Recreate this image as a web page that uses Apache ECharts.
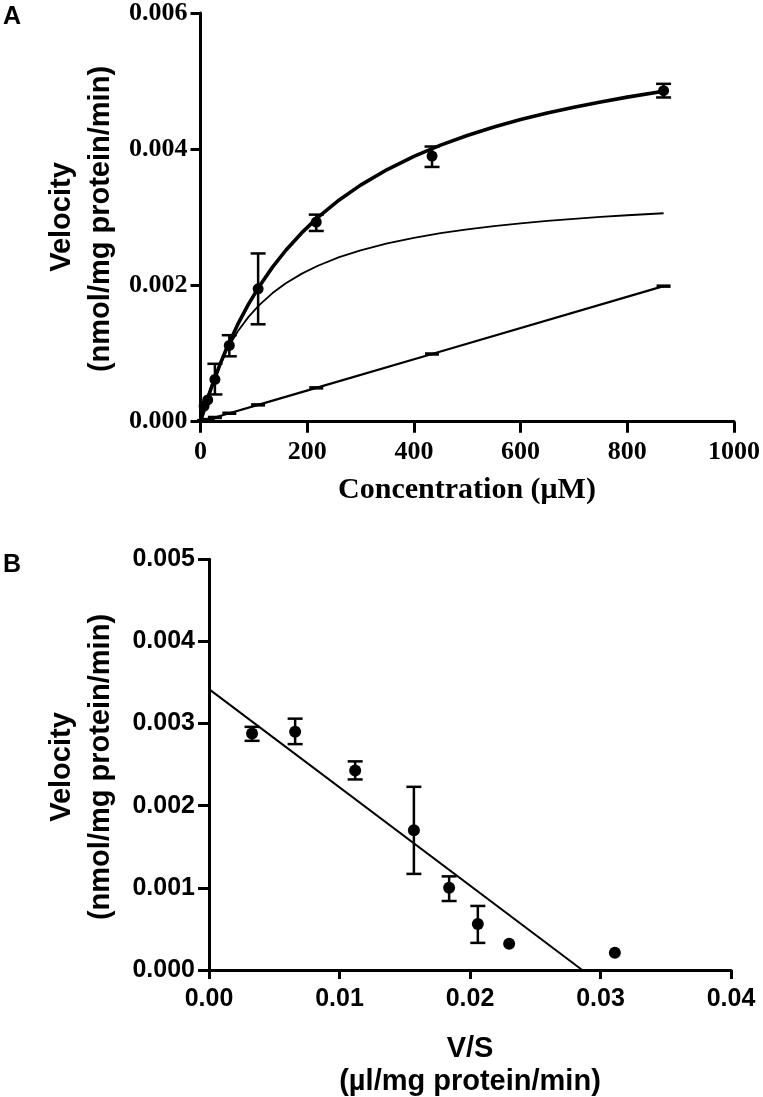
<!DOCTYPE html>
<html><head><meta charset="utf-8">
<script src="https://cdn.jsdelivr.net/npm/echarts@6/dist/echarts.min.js"></script>
<style>html,body{margin:0;padding:0;background:#fff}#c{width:763px;height:1097px}</style>
</head><body><div id="c"></div>
<script>
// ---------- Panel A data ----------
const concA = [6.75, 13.5, 27, 54, 108, 217, 434, 868];
const velA = [0.00023, 0.00032, 0.00062, 0.00112, 0.00195, 0.00293, 0.00390, 0.00486];
const errLowA = [0.00023, 0.00032, 0.00040, 0.00096, 0.00143, 0.00280, 0.00374, 0.00476];
const errHighA = [0.00023, 0.00032, 0.00085, 0.00127, 0.00247, 0.00304, 0.00404, 0.00496];
const linearConcA = [0, 6.75, 13.5, 27, 54, 108, 217, 434, 868];
const linearVelA = [0, 0.0000155, 0.000031, 0.000062, 0.000124, 0.000247, 0.000497, 0.000994, 0.00199];
const curveConcA = [0, 10, 20, 35, 50, 70, 90, 110, 135, 160, 190, 220, 260, 300, 350, 400, 450, 500, 550, 600, 650, 700, 750, 800, 868];
const totalFitA = [0, 0.000256, 0.000491, 0.000810, 0.001096, 0.001432, 0.001726, 0.001985, 0.002269, 0.002517, 0.002775, 0.002999, 0.003255, 0.003473, 0.003702, 0.003895, 0.004060, 0.004202, 0.004326, 0.004435, 0.004532, 0.004618, 0.004695, 0.004765, 0.004850];
const satFitA = [0, 0.000283, 0.000524, 0.000823, 0.001066, 0.001329, 0.001539, 0.001712, 0.001888, 0.002032, 0.002174, 0.002290, 0.002415, 0.002516, 0.002617, 0.002699, 0.002767, 0.002823, 0.002871, 0.002912, 0.002947, 0.002978, 0.003006, 0.003031, 0.003060];
const xTicksA = [0, 200, 400, 600, 800, 1000];
const yTicksA = [0, 0.002, 0.004, 0.006];

// ---------- Panel B data ----------
const vsB = [0.0033, 0.0066, 0.0112, 0.0157, 0.0184, 0.0206, 0.0230, 0.0311];
const velB = [0.00288, 0.00290, 0.00243, 0.00170, 0.00100, 0.00056, 0.00032, 0.00021];
const errLowB = [0.00279, 0.00275, 0.00232, 0.00117, 0.00084, 0.00033, 0.00032, 0.00021];
const errHighB = [0.00296, 0.00306, 0.00254, 0.00223, 0.00114, 0.00078, 0.00032, 0.00021];
const fitXB = [0, 0.0286];
const fitYB = [0.00342, 0];
const xTicksB = [0, 0.01, 0.02, 0.03, 0.04];
const yTicksB = [0, 0.001, 0.002, 0.003, 0.004, 0.005];

const chart = echarts.init(document.getElementById('c'), null, {renderer: 'canvas'});

const serif = '"Liberation Serif", "Times New Roman", serif';
const sans = '"Liberation Sans", Arial, sans-serif';

function axisCommon(fontFamily, fontSize, decimals, margin, tickLen) {
  return {
    axisLine: {show: true, onZero: false, lineStyle: {color: '#000', width: 3}},
    axisTick: {show: true, inside: false, length: tickLen, lineStyle: {color: '#000', width: 3}},
    splitLine: {show: false},
    axisLabel: {
      color: '#000', fontFamily: fontFamily, fontWeight: 'bold', fontSize: fontSize, margin: margin,
      formatter: v => decimals === 0 ? String(Math.round(v)) : Number(v).toFixed(decimals)
    }
  };
}

function errRender(params, api) {
  const x = api.value(0), lo = api.value(1), hi = api.value(2);
  if (hi - lo <= 0) return null;
  const a = api.coord([x, lo]), b = api.coord([x, hi]);
  const w = 7.5;
  const st = {stroke: '#000', lineWidth: 2.5};
  return {type: 'group', children: [
    {type: 'line', shape: {x1: a[0], y1: a[1], x2: b[0], y2: b[1]}, style: st},
    {type: 'line', shape: {x1: a[0] - w, y1: a[1], x2: a[0] + w, y2: a[1]}, style: st},
    {type: 'line', shape: {x1: b[0] - w, y1: b[1], x2: b[0] + w, y2: b[1]}, style: st}
  ]};
}

const zip2 = (xs, ys) => xs.map((x, i) => [x, ys[i]]);
const zip3 = (xs, a, b) => xs.map((x, i) => [x, a[i], b[i]]);

const option = {
  animation: false,
  backgroundColor: '#fff',
  grid: [
    {left: 200.5, top: 10, width: 534, height: 411.7},
    {left: 209, top: 559.3, width: 522, height: 410.7}
  ],
  xAxis: [
    Object.assign({type: 'value', gridIndex: 0, min: xTicksA[0], max: xTicksA[xTicksA.length - 1], interval: xTicksA[1] - xTicksA[0]}, axisCommon(serif, 26, 0, 18, 11)),
    Object.assign({type: 'value', gridIndex: 1, min: xTicksB[0], max: xTicksB[xTicksB.length - 1], interval: xTicksB[1] - xTicksB[0]}, axisCommon(sans, 25, 2, 17, 9))
  ],
  yAxis: [
    Object.assign({type: 'value', gridIndex: 0, min: yTicksA[0], max: yTicksA[yTicksA.length - 1], interval: yTicksA[1] - yTicksA[0]}, axisCommon(serif, 26, 3, 13, 10)),
    Object.assign({type: 'value', gridIndex: 1, min: yTicksB[0], max: yTicksB[yTicksB.length - 1], interval: yTicksB[1] - yTicksB[0]}, axisCommon(sans, 25, 3, 14, 11))
  ],
  series: [
    {type: 'line', xAxisIndex: 0, yAxisIndex: 0, data: zip2(curveConcA, satFitA), smooth: false, showSymbol: false, lineStyle: {color: '#000', width: 1.8}, z: 2},
    {type: 'line', xAxisIndex: 0, yAxisIndex: 0, data: zip2(linearConcA, linearVelA).map((p, i) => i === 0 ? {value: p, symbol: 'none'} : p), symbol: 'rect', symbolSize: [14, 3.5], itemStyle: {color: '#000', opacity: 1}, lineStyle: {color: '#000', width: 2.2}, z: 2},
    {type: 'line', xAxisIndex: 0, yAxisIndex: 0, data: zip2(curveConcA, totalFitA), smooth: false, showSymbol: false, lineStyle: {color: '#000', width: 3.6, join: 'round'}, z: 3},
    {type: 'custom', xAxisIndex: 0, yAxisIndex: 0, data: zip3(concA, errLowA, errHighA), renderItem: errRender, z: 4},
    {type: 'scatter', xAxisIndex: 0, yAxisIndex: 0, data: zip2(concA, velA), symbol: 'circle', symbolSize: 11, itemStyle: {color: '#000', opacity: 1}, z: 5},

    {type: 'line', xAxisIndex: 1, yAxisIndex: 1, data: zip2(fitXB, fitYB), showSymbol: false, lineStyle: {color: '#000', width: 2}, z: 2},
    {type: 'custom', xAxisIndex: 1, yAxisIndex: 1, data: zip3(vsB, errLowB, errHighB), renderItem: errRender, z: 4},
    {type: 'scatter', xAxisIndex: 1, yAxisIndex: 1, data: zip2(vsB, velB), symbol: 'circle', symbolSize: 12, itemStyle: {color: '#000', opacity: 1}, z: 5}
  ],
  graphic: [
    {type: 'text', x: 3, y: 5, style: {text: 'A', font: 'bold 25px ' + sans, fill: '#000', align: 'left', verticalAlign: 'top'}},
    {type: 'text', x: 62, y: 217, rotation: Math.PI / 2, style: {text: 'Velocity', font: 'bold 29px ' + sans, fill: '#000', align: 'center', verticalAlign: 'middle'}},
    {type: 'text', x: 101, y: 219, rotation: Math.PI / 2, style: {text: '(nmol/mg protein/min)', font: 'bold 29px ' + sans, fill: '#000', align: 'center', verticalAlign: 'middle'}},
    {type: 'text', x: 467, y: 490, style: {text: 'Concentration (μM)', font: 'bold 30px ' + serif, fill: '#000', align: 'center', verticalAlign: 'middle'}},

    {type: 'text', x: 3, y: 553, style: {text: 'B', font: 'bold 25px ' + sans, fill: '#000', align: 'left', verticalAlign: 'top'}},
    {type: 'text', x: 62, y: 767, rotation: Math.PI / 2, style: {text: 'Velocity', font: 'bold 29px ' + sans, fill: '#000', align: 'center', verticalAlign: 'middle'}},
    {type: 'text', x: 101, y: 767, rotation: Math.PI / 2, style: {text: '(nmol/mg protein/min)', font: 'bold 29px ' + sans, fill: '#000', align: 'center', verticalAlign: 'middle'}},
    {type: 'text', x: 470, y: 1049, style: {text: 'V/S', font: 'bold 29px ' + sans, fill: '#000', align: 'center', verticalAlign: 'middle'}},
    {type: 'text', x: 470, y: 1082, style: {text: '(µl/mg protein/min)', font: 'bold 29px ' + sans, fill: '#000', align: 'center', verticalAlign: 'middle'}}
  ]
};
chart.setOption(option);
</script>
</body></html>
